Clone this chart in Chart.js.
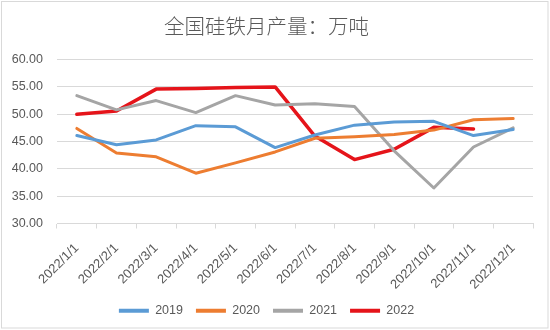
<!DOCTYPE html>
<html>
<head>
<meta charset="utf-8">
<script src="https://cdn.jsdelivr.net/npm/chart.js@4.4.1/dist/chart.umd.min.js"></script>
<style>
html,body{margin:0;padding:0;background:#fff;}
#wrap{width:550px;height:330px;position:relative;}
</style>
</head>
<body>
<div id="wrap"><canvas id="c" width="550" height="330"></canvas></div>
<script>
const categories = ["2022/1/1","2022/2/1","2022/3/1","2022/4/1","2022/5/1","2022/6/1","2022/7/1","2022/8/1","2022/9/1","2022/10/1","2022/11/1","2022/12/1"];
const s2019 = [46.1, 44.4, 45.3, 47.9, 47.7, 43.9, 46.2, 48.0, 48.6, 48.7, 46.1, 47.2];
const s2020 = [47.4, 42.9, 42.2, 39.2, 41.1, 43.1, 45.6, 45.9, 46.3, 47.1, 49.0, 49.2];
const s2021 = [53.4, 50.8, 52.5, 50.3, 53.4, 51.7, 51.9, 51.4, 43.3, 36.5, 44.0, 47.5];
const s2022 = [50.0, 50.6, 54.6, 54.7, 54.9, 55.0, 46.0, 41.7, 43.6, 47.6, 47.3, null];
const seriesNames = ["2019","2020","2021","2022"];
const yTicks = [30, 35, 40, 45, 50, 55, 60];

const colors = ["#5b9bd5","#ed7d31","#a5a5a5","#e5141a"];
const widths = [3, 3, 3, 3.5];
const seriesData = [s2019, s2020, s2021, s2022];

Chart.defaults.font.family = "'Liberation Sans', 'Noto Sans CJK SC', sans-serif";
Chart.defaults.color = "#595959";

const borderPlugin = {
  id: 'outerBorder',
  beforeDraw(chart) {
    const ctx = chart.ctx;
    ctx.save();
    ctx.fillStyle = '#ffffff';
    ctx.fillRect(0, 0, chart.width, chart.height);
    ctx.strokeStyle = '#d9d9d9';
    ctx.lineWidth = 1;
    ctx.strokeRect(1.5, 1.5, chart.width - 3.5, chart.height - 3.5);
    ctx.restore();
  }
};

new Chart(document.getElementById('c'), {
  type: 'line',
  data: {
    labels: categories,
    datasets: seriesNames.map((n, i) => ({
      label: n,
      data: seriesData[i],
      borderColor: colors[i],
      backgroundColor: colors[i],
      borderWidth: widths[i],
      pointRadius: 0,
      tension: 0,
      borderCapStyle: 'round',
      borderJoinStyle: 'round',
      spanGaps: false
    }))
  },
  options: {
    responsive: false,
    animation: false,
    devicePixelRatio: 1,
    layout: { padding: { left: 0, right: 17, top: 0, bottom: 3 } },
    plugins: {
      title: {
        display: true,
        text: '全国硅铁月产量：万吨',
        font: { family: "'Noto Sans CJK SC', sans-serif", size: 20.5, weight: 300 },
        color: '#595959',
        padding: { top: 14, bottom: 21 }
      },
      legend: {
        position: 'bottom',
        labels: {
          boxWidth: 30,
          boxHeight: 4,
          padding: 13,
          font: { size: 12.5 },
          color: '#595959',
          generateLabels(chart) {
            return chart.data.datasets.map((d, i) => ({
              text: d.label,
              fillStyle: d.borderColor,
              strokeStyle: d.borderColor,
              lineWidth: 0,
              hidden: false,
              datasetIndex: i,
              fontColor: '#595959'
            }));
          }
        }
      },
      tooltip: { enabled: false }
    },
    scales: {
      x: {
        offset: true,
        grid: {
          offset: true,
          drawOnChartArea: false,
          drawTicks: true,
          tickLength: 5,
          color: '#d9d9d9'
        },
        border: { display: true, color: '#d9d9d9' },
        ticks: {
          minRotation: 45,
          maxRotation: 45,
          autoSkip: false,
          padding: 12,
          font: { size: 13 },
          color: '#595959'
        },
        afterFit(scale) { scale.height = 68; }
      },
      y: {
        min: 30,
        max: 60,
        afterBuildTicks(scale) { scale.ticks = yTicks.map(v => ({ value: v })); },
        grid: { color: '#d9d9d9', drawTicks: false, lineWidth: 1 },
        border: { display: false },
        ticks: {
          padding: 14,
          font: { size: 12.5 },
          color: '#595959',
          callback: v => Number(v).toFixed(2)
        },
        afterFit(scale) { scale.width = 57; }
      }
    }
  },
  plugins: [borderPlugin]
});
</script>
</body>
</html>
